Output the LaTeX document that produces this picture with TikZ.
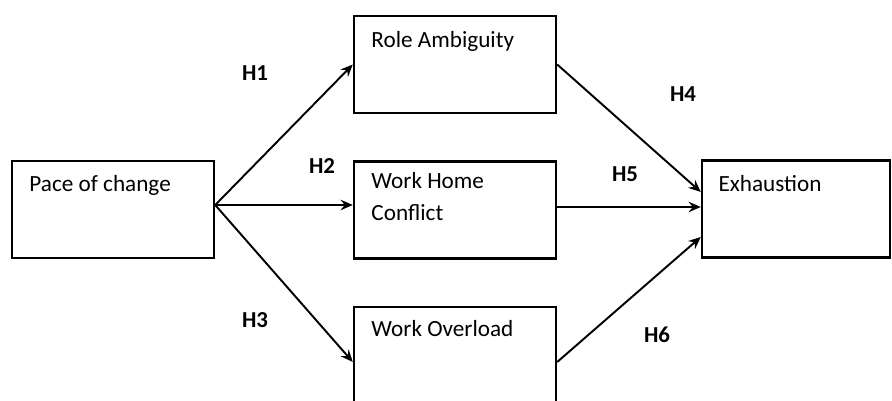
\documentclass[tikz,border=0pt]{standalone}
\usepackage{fontspec}
\setmainfont{Carlito}
\usetikzlibrary{arrows.meta}

\begin{document}
\begin{tikzpicture}[x=0.02cm,y=-0.02cm,thick]

%Box sizes
\def\bw{4.04cm}        %width of the middle and left boxes.
\def\bh{1.94cm}        %height of a box.

\tikzset{
  var/.style={draw,line width=1.4pt,minimum width=\bw,minimum height=\bh,inner sep=0pt},
  txt/.style={anchor=base west,align=left,inner sep=0pt,font=\fontsize{13.2}{18}\selectfont},
  hyp/.style={font=\bfseries\fontsize{13}{14}\selectfont},
  link/.style={line width=1.1pt,-{Stealth[length=7pt,width=6pt,inset=2.5pt]}}
}

\clip (0,0) rectangle (892,401);

% Variables
\node[var] (pace) at (113,209.5) {};
\node[var] (role) at (455,64.5) {};
\node[var] (whc) at (455,210) {};
\node[var,minimum height=2.2cm] (over) at (455,362) {};
\node[var,minimum width=3.76cm] (exh) at (796,209) {};

% Texts in the boxes
\node[txt] (pacet) at ([shift={(18,32)}]pace.north west) {Pace of change};
\node[txt] (rolet) at ([shift={(18,33)}]role.north west) {Role Ambiguity};
\node[txt] (whct) at ([shift={(18,60)}]whc.north west) {Work Home\\Conflict};
\node[txt] (overt) at ([shift={(18,31)}]over.north west) {Work Overload};
\node[txt] (exht) at ([shift={(17,32)}]exh.north west) {Exhaustion};

% Paths
\coordinate (src) at ([yshift=0.09cm]pace.east);
\draw[link] (src) -- (role.west);
\draw[link] (src) -- (src -| whc.west);
\draw[link] (src) -- (over.west);

\draw[link] (role.east) -- ([yshift=0.34cm]exh.west);
\draw[link] ([yshift=0.06cm]whc.east) -- ([yshift=0.06cm]whc.east -| exh.west);
\draw[link] (over.east) -- ([yshift=-0.56cm]exh.west);

% Hypotheses
\node[hyp] (h1) at (255,73) {H1};
\node[hyp] (h2) at (322,166) {H2};
\node[hyp] (h3) at (255,320) {H3};
\node[hyp] (h4) at (683,94) {H4};
\node[hyp] (h5) at (625,174) {H5};
\node[hyp] (h6) at (657,335) {H6};

\end{tikzpicture}
\end{document}
